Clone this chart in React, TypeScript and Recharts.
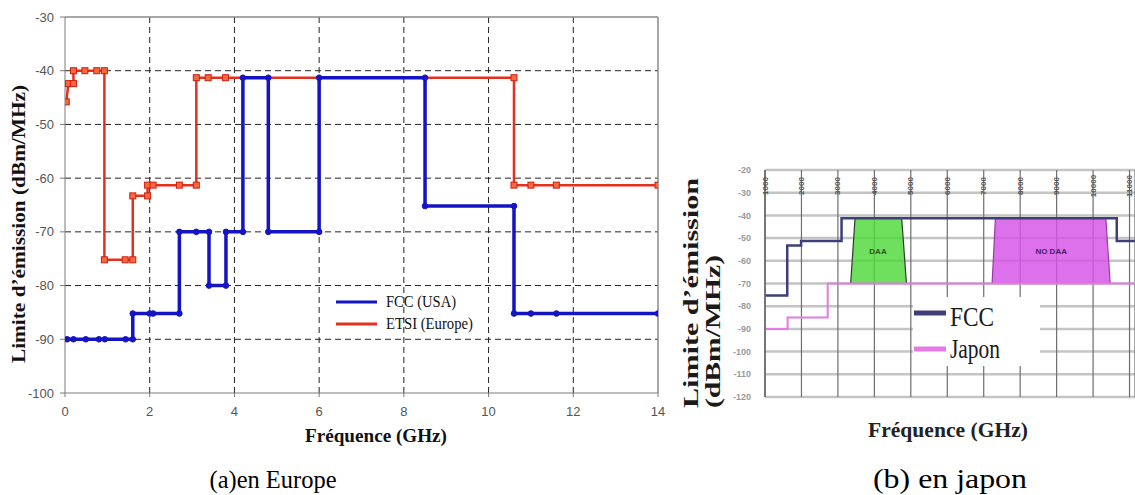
import React from 'react';
import {
  LineChart,
  ComposedChart,
  Line,
  Area,
  XAxis,
  YAxis,
  CartesianGrid,
  ReferenceLine,
  ReferenceDot,
  Legend,
} from 'recharts';

// ---------- (a) Europe chart data (GHz, dBm/MHz) ----------
const europeXTicks = [0, 2, 4, 6, 8, 10, 12, 14];
const europeYTicks = [-100, -90, -80, -70, -60, -50, -40, -30];
const europeGridX = [2, 4, 6, 8, 10, 12];
const europeGridY = [-90, -80, -70, -60, -50, -40];

const etsiFreq = [0.03, 0.08, 0.2, 0.2, 0.47, 0.75, 0.93, 0.93, 1.42, 1.6, 1.6, 1.95, 1.95, 2.08, 2.7, 3.1, 3.1, 3.38, 3.79, 10.6, 10.6, 11.0, 11.6, 14.0];
const etsiLimit = [-45.8, -42.4, -42.4, -40, -40, -40, -40, -75.2, -75.2, -75.2, -63.3, -63.3, -61.3, -61.3, -61.3, -61.3, -41.3, -41.3, -41.3, -41.3, -61.3, -61.3, -61.3, -61.3];

const fccUsaFreq = [0.05, 0.2, 0.49, 0.8, 0.94, 1.43, 1.6, 1.6, 2.0, 2.08, 2.7, 2.7, 3.1, 3.4, 3.4, 3.8, 3.8, 4.2, 4.2, 4.8, 4.8, 6.0, 6.0, 8.5, 8.5, 10.6, 10.6, 11.0, 11.6, 14.0];
const fccUsaLimit = [-90, -90, -90, -90, -90, -90, -90, -85.2, -85.2, -85.2, -85.2, -70, -70, -70, -80, -80, -70, -70, -41.3, -41.3, -70, -70, -41.3, -41.3, -65.2, -65.2, -85.2, -85.2, -85.2, -85.2];

// ---------- (b) Japan chart data (MHz, dBm/MHz) ----------
const japanXTicks = [1000, 2000, 3000, 4000, 5000, 6000, 7000, 8000, 9000, 10000, 11000];
const japanYTicks = [-120, -110, -100, -90, -80, -70, -60, -50, -40, -30, -20];

const fccFreq = [1000, 1610, 1610, 1990, 1990, 3100, 3100, 10650, 10650, 11150];
const fccLimit = [-75.3, -75.3, -53.3, -53.3, -51.3, -51.3, -41.3, -41.3, -51.3, -51.3];

const japonFreq = [1000, 1620, 1620, 2720, 2720, 11150];
const japonLimit = [-90, -90, -85, -85, -70, -70];

const daaFreq = [3350, 3470, 4750, 4880];
const daaLimit = [-70, -41.3, -41.3, -70];

const noDaaFreq = [7230, 7320, 10350, 10470];
const noDaaLimit = [-70, -41.3, -41.3, -70];

const zip = (xs: number[], ys: number[]) => xs.map((f, i) => ({ f, lim: ys[i] }));

const etsiData = zip(etsiFreq, etsiLimit);
const fccUsaData = zip(fccUsaFreq, fccUsaLimit);
const fccData = zip(fccFreq, fccLimit);
const japonData = zip(japonFreq, japonLimit);
const daaData = zip(daaFreq, daaLimit);
const noDaaData = zip(noDaaFreq, noDaaLimit);

const SERIF = '"Liberation Serif", "Times New Roman", serif';
const SANS = '"Liberation Sans", Arial, sans-serif';

const RED = '#e5301f';
const BLUE = '#1414c4';

const SquareDot = (props: any) => {
  const { cx, cy, index } = props;
  if (cx == null || cy == null) return null;
  return <rect key={`sq-${index}`} x={cx - 3} y={cy - 3} width={6} height={6} fill="#f26a3e" stroke="#d41c10" strokeWidth={1} />;
};

const RoundDot = (props: any) => {
  const { cx, cy, index } = props;
  if (cx == null || cy == null) return null;
  return <circle key={`rd-${index}`} cx={cx} cy={cy} r={2.8} fill={BLUE} stroke={BLUE} />;
};

const europeLegendOrder = ['FCC (USA)', 'ETSI (Europe)'];
const europeLegendLen: Record<string, number> = { 'FCC (USA)': 70, 'ETSI (Europe)': 87 };

const EuropeLegend = (props: any) => {
  const payload = (props.payload || []).slice().sort(
    (a: any, b: any) => europeLegendOrder.indexOf(a.value) - europeLegendOrder.indexOf(b.value)
  );
  return (
    <svg width={150} height={46}>
      {payload.map((p: any, i: number) => (
        <g key={p.value}>
          <line x1={6} x2={47} y1={12 + i * 22} y2={12 + i * 22} stroke={p.color} strokeWidth={3} />
          <text
            x={56}
            y={17 + i * 22}
            fontFamily={SERIF}
            fontSize={16}
            fill="#111"
            textLength={europeLegendLen[p.value]}
            lengthAdjust="spacingAndGlyphs"
          >
            {p.value}
          </text>
        </g>
      ))}
    </svg>
  );
};

const japanLegendLen: Record<string, number> = { FCC: 44, Japon: 50 };
const JapanLegend = (props: any) => {
  const payload = (props.payload || []).filter((p: any) => p.value === 'FCC' || p.value === 'Japon');
  const order = ['FCC', 'Japon'];
  payload.sort((a: any, b: any) => order.indexOf(a.value) - order.indexOf(b.value));
  return (
    <svg width={127} height={69} style={{ background: '#fff', display: 'block' }}>
      {payload.map((p: any, i: number) => (
        <g key={p.value}>
          <line x1={1} x2={33} y1={16 + i * 36} y2={16 + i * 36} stroke={p.color} strokeWidth={5} />
          <text
            x={37}
            y={29 + i * 32}
            fontFamily={SERIF}
            fontSize={27}
            fill="#1a1a1a"
            textLength={japanLegendLen[p.value]}
            lengthAdjust="spacingAndGlyphs"
          >
            {p.value}
          </text>
        </g>
      ))}
    </svg>
  );
};

const TopTick = (props: any) => {
  const { x, y, payload } = props;
  const ty = y + 16;
  return (
    <g>
      <text
        x={x}
        y={ty}
        transform={`rotate(-90, ${x}, ${ty})`}
        textAnchor="middle"
        dominantBaseline="central"
        fontFamily={SANS}
        fontSize={8}
        fontWeight="bold"
        fill="#555"
      >
        {payload.value}
      </text>
    </g>
  );
};

export default function App() {
  return (
    <div style={{ position: 'absolute', left: 0, top: 0, width: 1135, height: 495, background: '#fff', overflow: 'hidden' }}>
      {/* (a) Europe */}
      <div style={{ position: 'absolute', left: 0, top: 0 }}>
        <LineChart width={680} height={460} margin={{ top: 17, right: 22, bottom: 37, left: 25 }}>
          <CartesianGrid
            horizontalValues={europeGridY}
            verticalValues={europeGridX}
            stroke="#222"
            strokeDasharray="6 4"
            strokeWidth={1}
          />
          <XAxis
            type="number"
            dataKey="f"
            domain={[0, 14]}
            ticks={europeXTicks}
            allowDataOverflow
            height={30}
            stroke="#7a7a7a"
            tickSize={4}
            tickMargin={10}
            tick={{ fill: '#555', fontSize: 13, fontFamily: SANS }}
          />
          <YAxis
            type="number"
            dataKey="lim"
            domain={[-100, -30]}
            ticks={europeYTicks}
            width={40}
            stroke="#7a7a7a"
            tickSize={5}
            tickMargin={6}
            tick={{ fill: '#555', fontSize: 13, fontFamily: SANS }}
          />
          <ReferenceLine y={-30} stroke="#8a8a8a" strokeWidth={1.5} />
          <ReferenceLine x={14} stroke="#8a8a8a" strokeWidth={1.5} />
          <Line
            data={etsiData}
            dataKey="lim"
            name="ETSI (Europe)"
            type="linear"
            stroke={RED}
            strokeWidth={2.5}
            dot={<SquareDot />}
            isAnimationActive={false}
          />
          <Line
            data={fccUsaData}
            dataKey="lim"
            name="FCC (USA)"
            type="linear"
            stroke={BLUE}
            strokeWidth={3.5}
            dot={<RoundDot />}
            isAnimationActive={false}
          />
          <Legend
            layout="vertical"
            align="center"
            verticalAlign="middle"
            wrapperStyle={{ left: 330, top: 290, width: 150, height: 46 }}
            content={<EuropeLegend />}
          />
        </LineChart>
      </div>

      {/* (b) Japan */}
      <div style={{ position: 'absolute', left: 680, top: 150 }}>
        <ComposedChart width={455} height={260} margin={{ top: 0, right: 0, bottom: 13, left: 55 }}>
          <CartesianGrid vertical={false} stroke="#c4c4c4" strokeWidth={2.5} />
          <CartesianGrid horizontal={false} stroke="#6e6e6e" strokeWidth={1.2} />
          <XAxis
            type="number"
            dataKey="f"
            orientation="top"
            domain={[1000, 11150]}
            ticks={japanXTicks}
            allowDataOverflow
            height={20}
            axisLine={false}
            tickLine={false}
            tickSize={0}
            tickMargin={0}
            tick={<TopTick />}
            interval={0}
          />
          <YAxis
            type="number"
            dataKey="lim"
            domain={[-120, -20]}
            ticks={japanYTicks}
            width={30}
            stroke="#666"
            strokeWidth={1.5}
            tickLine={false}
            tickMargin={8}
            interval={0}
            tick={{ fill: '#9a9a9a', fontSize: 9, fontFamily: SANS, fontWeight: 'bold' }}
          />
          <Area
            data={daaData}
            dataKey="lim"
            name="DAA"
            type="linear"
            baseValue={-70}
            fill="#4fd83a"
            fillOpacity={0.82}
            stroke="#2e3a2e"
            strokeWidth={1.2}
            dot={false}
            activeDot={false}
            legendType="none"
            isAnimationActive={false}
          />
          <Area
            data={noDaaData}
            dataKey="lim"
            name="NO DAA"
            type="linear"
            baseValue={-70}
            fill="#d652e6"
            fillOpacity={0.82}
            stroke="#9a3aa6"
            strokeWidth={1.2}
            dot={false}
            activeDot={false}
            legendType="none"
            isAnimationActive={false}
          />
          <Line
            data={japonData}
            dataKey="lim"
            name="Japon"
            type="linear"
            stroke="#e47ae4"
            strokeWidth={2}
            dot={false}
            isAnimationActive={false}
          />
          <Line
            data={fccData}
            dataKey="lim"
            name="FCC"
            type="linear"
            stroke="#3e3e78"
            strokeWidth={2.5}
            dot={false}
            isAnimationActive={false}
          />
          <ReferenceDot
            x={4100}
            y={-55.7}
            r={0}
            fill="none"
            stroke="none"
            label={{ value: 'DAA', position: 'center', fill: '#2a5a1e', fontSize: 8, fontWeight: 'bold', fontFamily: SANS }}
          />
          <ReferenceDot
            x={8850}
            y={-55.7}
            r={0}
            fill="none"
            stroke="none"
            label={{ value: 'NO DAA', position: 'center', fill: '#4a1a66', fontSize: 8, fontWeight: 'bold', fontFamily: SANS }}
          />
          <Legend
            layout="vertical"
            align="center"
            verticalAlign="middle"
            wrapperStyle={{ left: 233, top: 147, width: 127, height: 69 }}
            content={<JapanLegend />}
          />
        </ComposedChart>
      </div>

      {/* Titles and captions */}
      <svg width={1135} height={495} style={{ position: 'absolute', left: 0, top: 0, pointerEvents: 'none' }}>
        <text
          x={25}
          y={224}
          transform="rotate(-90, 25, 224)"
          textAnchor="middle"
          fontFamily={SERIF}
          fontWeight="bold"
          fontSize={19}
          fill="#111"
          textLength={278}
          lengthAdjust="spacingAndGlyphs"
        >
          Limite d’émission (dBm/MHz)
        </text>
        <text
          x={376}
          y={442}
          textAnchor="middle"
          fontFamily={SERIF}
          fontWeight="bold"
          fontSize={18}
          fill="#111"
          textLength={142}
          lengthAdjust="spacingAndGlyphs"
        >
          Fréquence (GHz)
        </text>
        <text
          x={273}
          y={488}
          textAnchor="middle"
          fontFamily={SERIF}
          fontSize={26}
          fill="#000"
          textLength={127}
          lengthAdjust="spacingAndGlyphs"
        >
          (a)en Europe
        </text>
        <text
          x={698}
          y={408}
          transform="rotate(-90, 698, 408)"
          textAnchor="start"
          fontFamily={SERIF}
          fontWeight="bold"
          fontSize={22}
          fill="#1a1a1a"
          textLength={230}
          lengthAdjust="spacingAndGlyphs"
        >
          Limite d’émission
        </text>
        <text
          x={720}
          y={408}
          transform="rotate(-90, 720, 408)"
          textAnchor="start"
          fontFamily={SERIF}
          fontWeight="bold"
          fontSize={21}
          fill="#1a1a1a"
          textLength={153}
          lengthAdjust="spacingAndGlyphs"
        >
          (dBm/MHz)
        </text>
        <text
          x={948}
          y={437}
          textAnchor="middle"
          fontFamily={SERIF}
          fontWeight="bold"
          fontSize={22}
          fill="#222"
          textLength={160}
          lengthAdjust="spacingAndGlyphs"
        >
          Fréquence (GHz)
        </text>
        <text
          x={950}
          y={488}
          textAnchor="middle"
          fontFamily={SERIF}
          fontSize={28}
          fill="#000"
          textLength={154}
          lengthAdjust="spacingAndGlyphs"
        >
          (b) en japon
        </text>
      </svg>
    </div>
  );
}
